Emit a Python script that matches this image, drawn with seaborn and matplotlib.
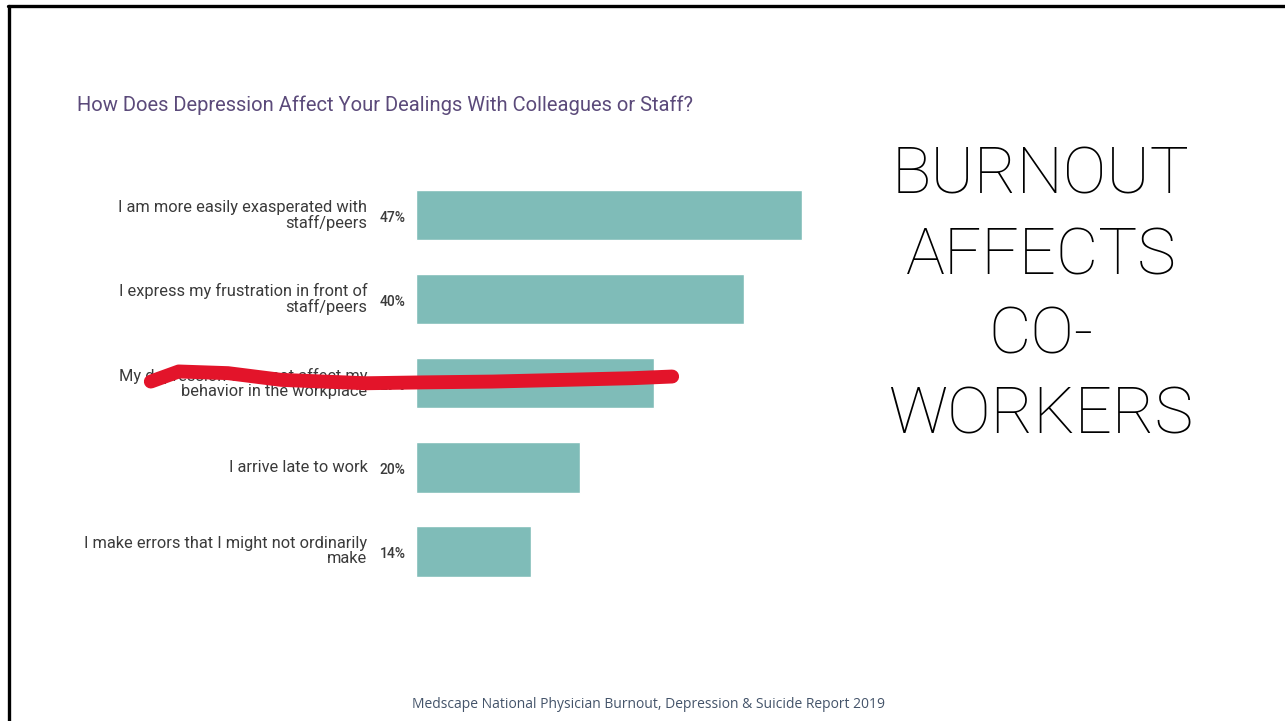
import matplotlib
matplotlib.use("Agg")
import matplotlib.pyplot as plt
from matplotlib.lines import Line2D
import seaborn as sns
import pandas as pd

# Survey answers and shares (%)
categories = [
    "I am more easily exasperated with\nstaff/peers",
    "I express my frustration in front of\nstaff/peers",
    "My depression does not affect my\nbehavior in the workplace",
    "I arrive late to work",
    "I make errors that I might not ordinarily\nmake",
]
values = [47, 40, 29, 20, 14]
value_labels = ["47%", "40%", "29%", "20%", "14%"]

title = "How Does Depression Affect Your Dealings With Colleagues or Staff?"
headline = ["BURNOUT", "AFFECTS", "CO-", "WORKERS"]
source = "Medscape National Physician Burnout, Depression & Suicide Report 2019"

sns.set_theme(style="white")
plt.rcParams["font.family"] = ["Roboto", "DejaVu Sans"]

W, H = 1285, 721
fig = plt.figure(figsize=(W / 100, H / 100), dpi=100)
fig.patch.set_facecolor("white")

# axes placed so the bars sit in the left part of the slide
ax_left, ax_right = 416, 826.5
ax_top, ax_bottom = 173, 593.5
ax = fig.add_axes([ax_left / W, 1 - ax_bottom / H,
                   (ax_right - ax_left) / W, (ax_bottom - ax_top) / H])

df = pd.DataFrame({"answer": categories, "share": values})
sns.barplot(data=df, y="answer", x="share", orient="h", color="#7fbcb8",
            saturation=1, width=0.6, ax=ax)
ax.set_xlim(0, 50)
ax.set_ylim(4.5, -0.5)
ax.set_xlabel("")
ax.set_ylabel("")
ax.set_xticks([])
ax.tick_params(axis="y", length=0, pad=35, labelsize=11.8, labelcolor="#3a3a3a")
for t in ax.get_yticklabels():
    t.set_linespacing(1.0)
    t.set_horizontalalignment("right")
    t.set_verticalalignment("center")
sns.despine(ax=ax, left=True, bottom=True)

for i, lab in enumerate(value_labels):
    ax.text(-1.3, i + 0.03, lab, ha="right", va="center", fontsize=10,
            fontweight="medium", color="#3a3a3a", clip_on=False)

# red marker stroke across the third answer
stroke_x = [-32.3, -28.9, -22.9, -16.4, -6.1, 0.7, 9.3, 17.9, 26.3, 31.2]
stroke_y = [1.98, 1.86, 1.88, 1.96, 2.00, 1.99, 1.98, 1.96, 1.94, 1.92]
ax.plot(stroke_x, stroke_y, color="#e3142a", lw=10, solid_capstyle="round",
        solid_joinstyle="round", clip_on=False, zorder=10)

fig.text(77 / W, 1 - 105 / H, title, ha="left", va="center", fontsize=14.5,
         color="#5b4a7a")

for k, line in enumerate(headline):
    fig.text(1041 / W, 1 - (176 + 80 * k) / H, line, ha="center", va="center",
             fontsize=47, color="black", fontfamily=["Roboto", "DejaVu Sans"],
             fontweight="light")

fig.text(648 / W, 1 - 704 / H, source, ha="center", va="center", fontsize=10,
         color="#44546a", fontfamily=["Open Sans", "DejaVu Sans"])

# slide frame (top and left edges)
fig.add_artist(Line2D([8 / W, 1], [1 - 6 / H, 1 - 6 / H], color="black", lw=2.4,
                      transform=fig.transFigure))
fig.add_artist(Line2D([9 / W, 9 / W], [0, 1 - 6 / H], color="black", lw=2.4,
                      transform=fig.transFigure))

fig.savefig("out.png", dpi=100, facecolor="white")
